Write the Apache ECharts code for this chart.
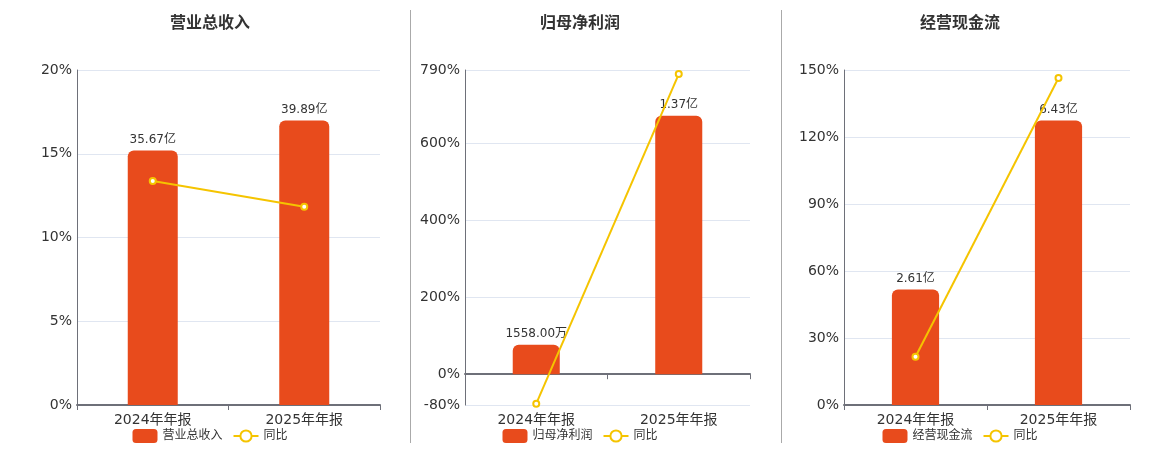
<!DOCTYPE html>
<html>
<head>
<meta charset="utf-8">
<script src="https://cdn.jsdelivr.net/npm/echarts@6/dist/echarts.min.js"></script>
<style>
html,body{margin:0;padding:0;background:#fff;width:1160px;height:450px;overflow:hidden;}
.c{position:absolute;top:0;height:450px;}
</style>
</head>
<body>
<div id="c1" class="c" style="left:0;width:420px;"></div>
<div id="c2" class="c" style="left:400px;width:360px;"></div>
<div id="c3" class="c" style="left:780px;width:360px;"></div>
<script>
// ---- data ----
const categories = ['2024年年报', '2025年年报'];

const titles = ['营业总收入', '归母净利润', '经营现金流'];

// bar values in 亿
const revenueValues = [35.67, 39.89];
const profitValues = [0.1558, 1.37];
const cashValues = [2.61, 6.43];

// bar label texts
const revenueLabels = ['35.67亿', '39.89亿'];
const profitLabels = ['1558.00万', '1.37亿'];
const cashLabels = ['2.61亿', '6.43亿'];

// YoY (%)
const revenueYoY = [13.37, 11.83];
const profitYoY = [-76.5, 779.3];
const cashYoY = [21.6, 146.4];

// left axis ranges
const revenueAxis = { min: 0, max: 20, interval: 5 };
const profitAxis = { min: -80, max: 790 };
const cashAxis = { min: 0, max: 150, interval: 30 };

const BAR = '#E84B1C';
const LINE = '#F5C400';
const FONT = 'DejaVu Sans, Noto Sans CJK SC, sans-serif';

function build(idx, barVals, barLabels, yoy, axisCfg, grid, sepX) {
  const barMax = Math.max.apply(null, barVals) * 1.177;
  const barMin = axisCfg.min < 0 ? barMax * axisCfg.min / axisCfg.max : 0;
  const leftAxis = {
    type: 'value',
    min: axisCfg.min,
    max: axisCfg.max,
    axisLine: { show: true, lineStyle: { color: '#6E7079', width: 1 } },
    axisTick: { show: false },
    axisLabel: { formatter: '{value}%', color: '#333', fontSize: 14, fontFamily: FONT, margin: 5, padding: [3, 0, 0, 0] },
    splitLine: { show: true, lineStyle: { color: '#E0E6F1' } }
  };
  if (axisCfg.interval) leftAxis.interval = axisCfg.interval;
  const opt = {
    animation: false,
    textStyle: { fontFamily: FONT },
    title: {
      text: titles[idx], left: 'center', top: 11,
      textStyle: { fontSize: 16, fontWeight: 'bold', color: '#333', fontFamily: FONT }
    },
    legend: {
      left: 'center', top: 424, itemWidth: 25, itemHeight: 14, itemGap: 10,
      textStyle: { fontSize: 12, color: '#333', fontFamily: FONT },
      data: [{ name: titles[idx], icon: 'roundRect' }, { name: '同比' }]
    },
    grid: grid,
    xAxis: {
      type: 'category',
      data: categories,
      axisLine: { show: true, onZero: true, onZeroAxisIndex: 0, lineStyle: { color: '#6E7079', width: 2 } },
      axisTick: { show: true, lineStyle: { color: '#6E7079' } },
      axisLabel: { color: '#333', fontSize: 14, fontFamily: FONT, margin: 8 }
    },
    yAxis: [leftAxis, {
      type: 'value', show: false, min: barMin, max: barMax,
      splitLine: { show: false }
    }],
    series: [{
      name: titles[idx],
      type: 'bar',
      yAxisIndex: 1,
      barWidth: '33%',
      data: barVals,
      itemStyle: { color: BAR, borderRadius: [6, 6, 0, 0] },
      label: {
        show: true, position: 'top', distance: 5, color: '#333', fontSize: 12, fontFamily: FONT,
        formatter: function (p) { return barLabels[p.dataIndex]; }
      },
      z: 2
    }, {
      name: '同比',
      type: 'line',
      yAxisIndex: 0,
      data: yoy,
      symbol: 'circle',
      symbolSize: 6,
      lineStyle: { color: LINE, width: 2 },
      itemStyle: { color: '#fff', borderColor: LINE, borderWidth: 2 },
      z: 5
    }]
  };
  if (sepX !== null) {
    opt.graphic = [{
      type: 'line', shape: { x1: sepX, y1: 10, x2: sepX, y2: 443 },
      style: { stroke: '#aaa', lineWidth: 1 }
    }];
  }
  return opt;
}

echarts.init(document.getElementById('c1')).setOption(
  build(0, revenueValues, revenueLabels, revenueYoY, revenueAxis,
    { left: 77, right: 40, top: 70, bottom: 45 }, null));
echarts.init(document.getElementById('c2')).setOption(
  build(1, profitValues, profitLabels, profitYoY, profitAxis,
    { left: 65, right: 10, top: 70, bottom: 45 }, 10.5));
echarts.init(document.getElementById('c3')).setOption(
  build(2, cashValues, cashLabels, cashYoY, cashAxis,
    { left: 64, right: 10, top: 70, bottom: 45 }, 1.5));
</script>
</body>
</html>
